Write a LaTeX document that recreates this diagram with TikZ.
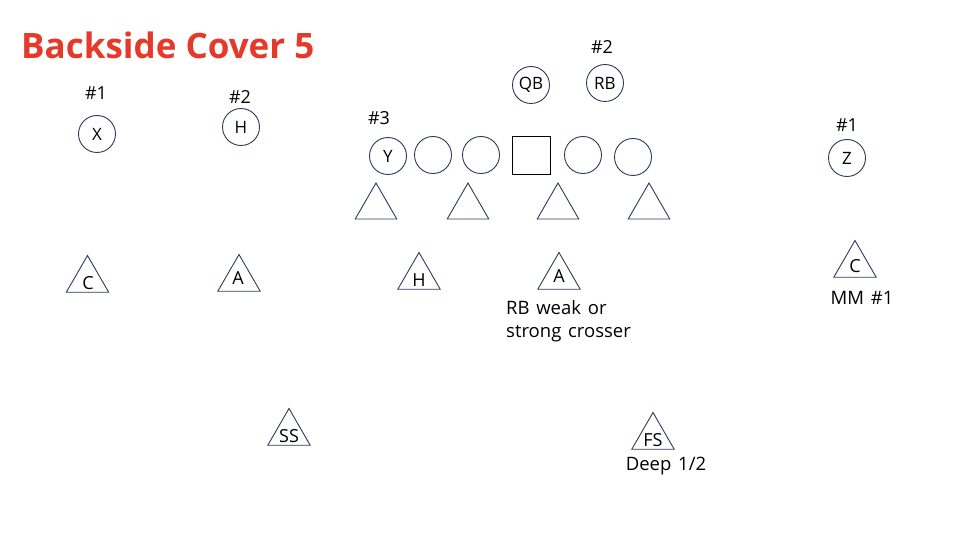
\documentclass[tikz,border=0pt]{standalone}
\usepackage{fontspec}
\setmainfont{Open Sans}
\newfontfamily\notefont[WordSpace=1.4]{Open Sans}
\usetikzlibrary{shapes.geometric}
\definecolor{titlered}{HTML}{E5392A}
\definecolor{navy}{HTML}{2E3A5C}
\tikzset{
  player/.style={circle,draw=navy,line width=0.9pt,minimum size=37pt,inner sep=0pt,font=\fontsize{17}{19}\selectfont},
  defender/.style={regular polygon,regular polygon sides=3,draw=navy,line width=0.9pt,minimum size=48pt,inner sep=0pt},
  smalldef/.style={defender,minimum size=49pt},
  center/.style={rectangle,draw=black,line width=0.9pt,minimum size=38pt,inner sep=0pt},
  lbl/.style={inner sep=0pt,font=\fontsize{18}{20}\selectfont},
  num/.style={inner sep=0pt,font=\fontsize{18}{20}\selectfont},
  note/.style={inner sep=0pt,font=\notefont\fontsize{18.5}{23}\selectfont,align=left}
}
\begin{document}
\begin{tikzpicture}[x=1pt,y=-1pt]
\useasboundingbox (0,0) rectangle (962,540);
\node[anchor=west,inner sep=0pt,text=titlered,font=\fontsize{35}{40}\selectfont\bfseries] (title) at (21,45) {Backside Cover 5};
% offense
\node[player] (X) at (97,134) {X};
\node[num] (n1x) at (96,93) {\#1};
\node[player] (H) at (241,127) {H};
\node[num] (n2h) at (240,97) {\#2};
\node[player] (QB) at (531,85) {QB};
\node[player] (RB) at (605,83) {RB};
\node[num] (n2rb) at (602,47) {\#2};
\node[num] (n3) at (379,118) {\#3};
\node[player] (Y) at (388,156) {Y};
\node[player] (LG) at (433,155) {};
\node[player] (LG2) at (481,155) {};
\node[center] (C) at (531,155) {};
\node[player] (RG) at (583,155) {};
\node[player] (RT) at (633,157) {};
\node[player] (Z) at (847,158) {Z};
\node[num] (n1z) at (847,125) {\#1};
% defensive line
\node[defender] (D1) at (376,207) {};
\node[defender] (D2) at (468,207) {};
\node[defender] (D3) at (558,207) {};
\node[defender] (D4) at (649,207) {};
% second level
\node[smalldef] (CL) at (87.5,280) {};
\node[lbl] (CLt) at (88,283) {C};
\node[smalldef] (AL) at (239,279) {};
\node[lbl] (ALt) at (238,278) {A};
\node[smalldef] (HM) at (419,277) {};
\node[lbl] (HMt) at (419,280) {H};
\node[smalldef] (AR) at (559,277) {};
\node[lbl] (ARt) at (559,276) {A};
\node[note,anchor=north west] (rbnote) at (506,300) {RB weak or\\strong crosser};
\node[smalldef] (CR) at (855,265) {};
\node[lbl] (CRt) at (855,266) {C};
\node[note] (mm) at (862,298) {MM \#1};
% safeties
\node[smalldef] (SS) at (289,433) {};
\node[lbl] (SSt) at (289,436) {SS};
\node[smalldef] (FS) at (653,437) {};
\node[lbl] (FSt) at (653,440) {FS};
\node[note] (deep) at (666,466) {Deep 1/2};
\end{tikzpicture}
\end{document}
